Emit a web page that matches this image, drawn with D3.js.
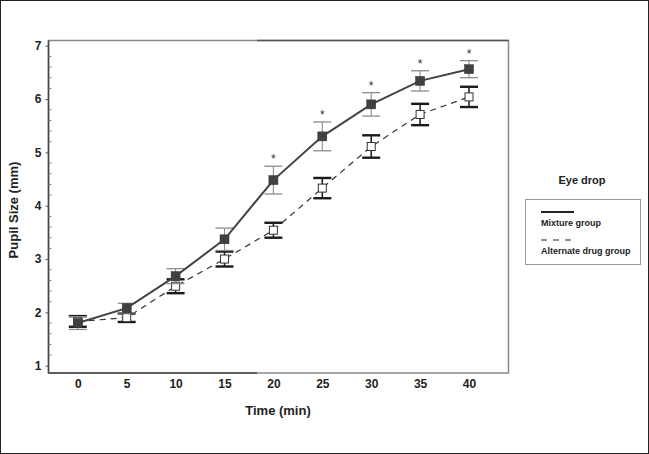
<!DOCTYPE html>
<html>
<head>
<meta charset="utf-8">
<script src="https://cdn.jsdelivr.net/npm/d3@7"></script>
<style>
  body { margin: 0; background: #fff; }
  text { font-family: "Liberation Sans", Arial, sans-serif; }
</style>
</head>
<body>
<div id="chart"></div>
<script>
// data
var times = [0, 5, 10, 15, 20, 25, 30, 35, 40];
var mixtureMean = [1.80, 2.08, 2.68, 3.37, 4.48, 5.30, 5.90, 6.34, 6.56];
var mixtureErr = [0.12, 0.09, 0.14, 0.21, 0.26, 0.27, 0.22, 0.19, 0.16];
var alternateMean = [1.83, 1.90, 2.49, 3.00, 3.54, 4.33, 5.11, 5.71, 6.04];
var alternateErr = [0.10, 0.08, 0.13, 0.14, 0.14, 0.19, 0.21, 0.20, 0.19];
var significant = [false, false, false, false, true, true, true, true, true];
var yTicks = [1, 2, 3, 4, 5, 6, 7];
var legendLabels = ["Mixture group", "Alternate drug group"];

var W = 649, H = 454;
var svg = d3.select("#chart").append("svg")
  .attr("width", W)
  .attr("height", H);

// outer border
svg.append("rect")
  .attr("x", 0.5).attr("y", 0.5)
  .attr("width", W - 1).attr("height", H - 1)
  .attr("fill", "#fff").attr("stroke", "#222");

var plotLeft = 48.5, plotRight = 508.5, plotTop = 40.5, plotBottom = 373;

var x = d3.scaleLinear().domain([0, 40]).range([77.8, 469]);
var y = d3.scaleLinear().domain([1, 7]).range([365.7, 45.7]);

// plot frame
svg.append("rect")
  .attr("x", plotLeft).attr("y", plotTop)
  .attr("width", plotRight - plotLeft).attr("height", plotBottom - plotTop)
  .attr("fill", "none").attr("stroke", "#8a8a8a").attr("stroke-width", 1.5);
svg.append("line")
  .attr("x1", plotLeft).attr("x2", plotLeft).attr("y1", plotTop).attr("y2", plotBottom)
  .attr("stroke", "#444").attr("stroke-width", 1.5);
svg.append("line")
  .attr("x1", plotLeft).attr("x2", 257).attr("y1", plotBottom).attr("y2", plotBottom)
  .attr("stroke", "#444").attr("stroke-width", 1.5);
svg.append("line")
  .attr("x1", 257).attr("x2", plotRight).attr("y1", plotTop).attr("y2", plotTop)
  .attr("stroke", "#555").attr("stroke-width", 1.5);

// y axis
var yAxis = d3.axisLeft(y).tickValues(yTicks).tickSize(3).tickPadding(4).tickFormat(d3.format("d"));
var gy = svg.append("g").attr("transform", "translate(" + plotLeft + ",0)").call(yAxis);
gy.select(".domain").remove();
gy.selectAll("line").attr("stroke", "#555");
gy.selectAll("text").attr("font-size", 12).attr("font-weight", "bold").attr("fill", "#222");

// minor ticks inside
var minor = d3.range(1, 7.001, 0.2).filter(function (d) { return Math.abs(d - Math.round(d)) > 0.01; });
svg.append("g").selectAll("line").data(minor).enter().append("line")
  .attr("x1", plotLeft).attr("x2", plotLeft + 3)
  .attr("y1", function (d) { return y(d); }).attr("y2", function (d) { return y(d); })
  .attr("stroke", "#777");

// x axis
var xAxis = d3.axisBottom(x).tickValues(times).tickSize(0).tickPadding(6);
var gx = svg.append("g").attr("transform", "translate(0," + plotBottom + ")").call(xAxis);
gx.select(".domain").remove();
gx.selectAll("text").attr("font-size", 12).attr("font-weight", "bold").attr("fill", "#222");

// axis titles
svg.append("text")
  .attr("x", 278).attr("y", 415)
  .attr("text-anchor", "middle")
  .attr("font-size", 13).attr("font-weight", "bold").attr("fill", "#222")
  .text("Time (min)");
svg.append("text")
  .attr("transform", "translate(18,210) rotate(-90)")
  .attr("text-anchor", "middle")
  .attr("font-size", 13).attr("font-weight", "bold").attr("fill", "#222")
  .text("Pupil Size (mm)");

var mix = times.map(function (t, i) { return { t: t, m: mixtureMean[i], e: mixtureErr[i], s: significant[i] }; });
var alt = times.map(function (t, i) { return { t: t, m: alternateMean[i], e: alternateErr[i] }; });

var line = d3.line()
  .x(function (d) { return x(d.t); })
  .y(function (d) { return y(d.m); });

var capW = 9;

// alternate group: dashed line, black thick error bars, open squares
svg.append("path").datum(alt)
  .attr("d", line)
  .attr("fill", "none").attr("stroke", "#333").attr("stroke-width", 1.2)
  .attr("stroke-dasharray", "6,5");

function errorBars(data, color, width, capWidth) {
  var g = svg.append("g");
  var eb = g.selectAll("g").data(data).enter().append("g");
  eb.append("line")
    .attr("x1", function (d) { return x(d.t); }).attr("x2", function (d) { return x(d.t); })
    .attr("y1", function (d) { return y(d.m + d.e); }).attr("y2", function (d) { return y(d.m - d.e); })
    .attr("stroke", color).attr("stroke-width", width);
  eb.append("line")
    .attr("x1", function (d) { return x(d.t) - capW; }).attr("x2", function (d) { return x(d.t) + capW; })
    .attr("y1", function (d) { return y(d.m + d.e); }).attr("y2", function (d) { return y(d.m + d.e); })
    .attr("stroke", color).attr("stroke-width", capWidth);
  eb.append("line")
    .attr("x1", function (d) { return x(d.t) - capW; }).attr("x2", function (d) { return x(d.t) + capW; })
    .attr("y1", function (d) { return y(d.m - d.e); }).attr("y2", function (d) { return y(d.m - d.e); })
    .attr("stroke", color).attr("stroke-width", capWidth);
}

errorBars(alt, "#1a1a1a", 1.5, 2.4);

svg.append("g").selectAll("rect").data(alt).enter().append("rect")
  .attr("x", function (d) { return x(d.t) - 4; })
  .attr("y", function (d) { return y(d.m) - 4; })
  .attr("width", 8).attr("height", 8)
  .attr("fill", "#fff").attr("stroke", "#333").attr("stroke-width", 1);

// mixture group: solid line, gray thin error bars, filled squares
errorBars(mix, "#8c8c8c", 1.1, 1.3);

svg.append("path").datum(mix)
  .attr("d", line)
  .attr("fill", "none").attr("stroke", "#444").attr("stroke-width", 2);

svg.append("g").selectAll("rect").data(mix).enter().append("rect")
  .attr("x", function (d) { return x(d.t) - 4.5; })
  .attr("y", function (d) { return y(d.m) - 4.5; })
  .attr("width", 9).attr("height", 9)
  .attr("fill", "#404040").attr("stroke", "#333").attr("stroke-width", 0.5);

// significance stars
svg.append("g").selectAll("text").data(mix.filter(function (d) { return d.s; })).enter().append("text")
  .attr("x", function (d) { return x(d.t); })
  .attr("y", function (d) { return y(d.m + d.e) - 3; })
  .attr("text-anchor", "middle")
  .attr("font-size", 12).attr("fill", "#333")
  .text("*");

// legend
svg.append("text")
  .attr("x", 582).attr("y", 184)
  .attr("text-anchor", "middle")
  .attr("font-size", 11).attr("font-weight", "bold").attr("fill", "#222")
  .text("Eye drop");
svg.append("rect")
  .attr("x", 525.5).attr("y", 199.5)
  .attr("width", 115).attr("height", 65)
  .attr("fill", "#fff").attr("stroke", "#999");

var leg = svg.append("g").selectAll("g").data(legendLabels).enter().append("g")
  .attr("transform", function (d, i) { return "translate(541," + (212 + i * 28) + ")"; });
leg.append("line")
  .attr("x1", 0).attr("x2", 33).attr("y1", 0).attr("y2", 0)
  .attr("stroke", "#222")
  .attr("stroke-width", function (d, i) { return i === 0 ? 2 : 1.2; })
  .attr("stroke-dasharray", function (d, i) { return i === 0 ? null : "6,6"; });
leg.append("text")
  .attr("x", 0).attr("y", 14)
  .attr("font-size", 9).attr("font-weight", "bold").attr("fill", "#222")
  .text(function (d) { return d; });
</script>
</body>
</html>
